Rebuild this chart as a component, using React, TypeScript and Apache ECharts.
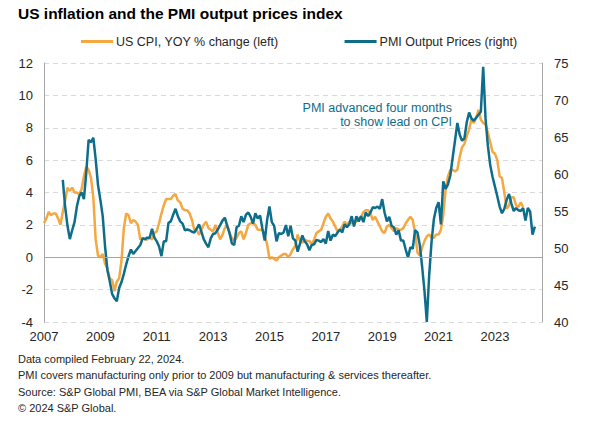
import React, { useEffect, useRef } from "react";
import * as echarts from "echarts";

// US CPI, YOY % change, monthly from Jan 2007 to Jan 2024
const cpiValues: number[] = [
  2.1, 2.4, 2.8, 2.6, 2.7, 2.7, 2.4, 2.0, 2.8, 3.5, 4.3, 4.1, // 2007
  4.3, 4.0, 4.0, 3.9, 4.2, 5.0, 5.6, 5.4, 4.9, 3.7, 1.1, 0.1, // 2008
  0.0, 0.2, -0.4, -0.7, -1.3, -1.4, -2.1, -1.5, -1.3, -0.2, 1.8, 2.7, // 2009
  2.6, 2.1, 2.3, 2.2, 2.0, 1.1, 1.2, 1.1, 1.1, 1.2, 1.1, 1.5, // 2010
  1.6, 2.1, 2.7, 3.2, 3.6, 3.6, 3.6, 3.8, 3.9, 3.5, 3.4, 3.0, // 2011
  2.9, 2.9, 2.7, 2.3, 1.7, 1.7, 1.4, 1.7, 2.0, 2.2, 1.8, 1.7, // 2012
  1.6, 2.0, 1.5, 1.1, 1.4, 1.8, 2.0, 1.5, 1.2, 1.0, 1.2, 1.5, // 2013
  1.6, 1.1, 1.5, 2.0, 2.1, 2.1, 2.0, 1.7, 1.7, 1.7, 1.3, 0.8, // 2014
  -0.1, 0.0, -0.1, -0.2, 0.0, 0.1, 0.2, 0.2, 0.0, 0.2, 0.5, 0.7, // 2015
  1.4, 1.0, 0.9, 1.1, 1.0, 1.0, 0.8, 1.1, 1.5, 1.6, 1.7, 2.1, // 2016
  2.5, 2.7, 2.4, 2.2, 1.9, 1.6, 1.7, 1.9, 2.2, 2.0, 2.2, 2.1, // 2017
  2.1, 2.2, 2.4, 2.5, 2.8, 2.9, 2.9, 2.7, 2.3, 2.5, 2.2, 1.9, // 2018
  1.6, 1.5, 1.9, 2.0, 1.8, 1.6, 1.8, 1.7, 1.7, 1.8, 2.1, 2.3, // 2019
  2.5, 2.3, 1.5, 0.3, 0.1, 0.6, 1.0, 1.3, 1.4, 1.2, 1.2, 1.4, // 2020
  1.4, 1.7, 2.6, 4.2, 5.0, 5.4, 5.4, 5.3, 5.4, 6.2, 6.8, 7.0, // 2021
  7.5, 7.9, 8.5, 8.3, 8.6, 9.1, 8.5, 8.3, 8.2, 7.7, 7.1, 6.5, // 2022
  6.4, 6.0, 5.0, 4.9, 4.0, 3.0, 3.2, 3.7, 3.7, 3.2, 3.1, 3.4, // 2023
  3.1, // 2024
];

// PMI Output Prices index, advanced four months: first plotted month is Sep 2007
const PMI_START_MONTH = 8; // months after Jan 2007
const pmiValues: number[] = [
  59.2, 55.6, 53.0, 51.2, 52.4, 53.5, 55.6, 57.0, 57.5, 56.6, 60.2, 64.6,
  64.3, 64.9, 62.0, 58.5, 56.5, 54.3, 50.2, 47.0, 45.5, 43.8, 43.2, 42.8,
  44.6, 45.4, 46.5, 47.8, 48.9, 49.8, 49.2, 49.6, 50.0, 50.4, 51.3, 51.2,
  51.4, 51.4, 52.6, 51.4, 50.9, 50.2, 48.9, 50.9, 50.9, 53.4, 53.6, 54.5,
  55.3, 54.3, 53.6, 53.3, 52.4, 52.5, 52.4, 52.2, 52.1, 52.6, 53.2, 52.2,
  51.2, 50.6, 50.1, 51.3, 51.9, 52.0, 52.5, 53.1, 53.7, 54.1, 53.0, 52.0,
  50.6, 50.4, 52.8, 53.0, 54.3, 53.5, 54.5, 54.8, 54.2, 53.3, 54.7, 54.0,
  54.4, 52.6, 51.0, 53.8, 55.6, 53.5, 53.0, 50.9, 52.0, 51.9, 52.1, 53.1,
  51.6, 53.0, 51.3, 51.0, 49.5, 50.6, 51.7, 50.9, 50.5, 49.7, 50.4, 50.5,
  51.1, 51.0, 50.8, 51.2, 50.6, 52.3, 51.0, 51.8, 51.6, 52.1, 52.5, 52.1,
  53.2, 52.8, 53.2, 54.3, 52.9, 54.3, 53.6, 54.3, 53.5, 54.8, 54.3, 54.8,
  55.5, 55.4, 55.6, 55.3, 56.6, 54.8, 53.6, 54.2, 53.0, 52.8, 51.8, 52.4,
  51.0, 51.0, 49.8, 48.7, 50.1, 49.9, 52.4, 52.1, 50.4, 47.5, 44.2, 40.0,
  46.3, 50.8, 53.9, 55.4, 56.2, 53.2, 59.0, 58.0, 58.6, 59.8, 62.2, 64.5,
  66.9, 65.3, 64.5, 64.8, 67.0, 68.3, 67.5, 67.2, 67.6, 68.0, 68.4, 74.5,
  67.5, 63.8, 61.2, 59.6, 58.3, 57.0, 55.6, 54.7, 55.3, 56.5, 57.3, 56.0,
  55.0, 55.4, 55.1, 55.0, 55.4, 53.7, 55.4, 54.9, 51.8, 52.9,
];

const FIRST_YEAR = 2007;
const X_MAX_YEARS = 17.67; // axis runs to about Sep 2024
const leftTicks = { min: -4, max: 12, interval: 2 };
const rightTicks = { min: 40, max: 75, interval: 5 };

const seriesNames = ["US CPI, YOY % change (left)", "PMI Output Prices (right)"];
const annotationLines = ["PMI advanced four months", "to show lead on CPI"];
const titleText = "US inflation and the PMI output prices index";
const footnotes = [
  "Data compiled February 22, 2024.",
  "PMI covers manufacturing only prior to 2009 but manufacturing & services thereafter.",
  "Source: S&P Global PMI, BEA via S&P Global Market Intelligence.",
  "\u00A9 2024 S&P Global.",
];

const ORANGE = "#F5A742";
const TEAL = "#0E6D8A";
const FONT = "'Liberation Sans', Arial, sans-serif";

export default function App() {
  const ref = useRef<HTMLDivElement>(null);

  useEffect(() => {
    if (!ref.current) return;
    const chart = echarts.init(ref.current, undefined, { renderer: "svg" });

    const cpiData = cpiValues.map((v, k) => [k / 12, v]);
    const pmiData = pmiValues.map((v, k) => [(k + PMI_START_MONTH) / 12, v]);

    const option: any = {
      animation: false,
      backgroundColor: "#ffffff",
      textStyle: { fontFamily: FONT },
      title: {
        text: titleText,
        left: 18,
        top: 5,
        padding: 0,
        textStyle: { fontSize: 15.5, fontWeight: "bold", color: "#000000", fontFamily: FONT },
      },
      legend: {
        left: 81,
        top: 35,
        padding: 0,
        itemWidth: 32,
        itemHeight: 3,
        itemGap: 66,
        icon: "rect",
        textStyle: { fontSize: 12.5, color: "#262626", fontFamily: FONT, padding: [0, 0, 0, -2] },
        data: seriesNames,
      },
      grid: { left: 44, right: 63, top: 63, bottom: 112, containLabel: false },
      xAxis: {
        type: "value",
        min: 0,
        max: X_MAX_YEARS,
        interval: 2,
        axisLine: { show: false },
        axisTick: { show: false },
        splitLine: { show: false },
        axisLabel: {
          fontSize: 13,
          color: "#262626",
          margin: 8,
          showMaxLabel: false,
          formatter: (v: number) => {
            const r = Math.round(v);
            if (Math.abs(v - r) > 1e-6 || r % 2 !== 0) return "";
            return String(FIRST_YEAR + r);
          },
        },
      },
      yAxis: [
        {
          type: "value",
          min: leftTicks.min,
          max: leftTicks.max,
          interval: leftTicks.interval,
          axisLine: { show: true, lineStyle: { color: "#a6a6a6", width: 1 } },
          axisTick: { show: false },
          axisLabel: { fontSize: 13, color: "#262626", margin: 11 },
          splitLine: { show: true, lineStyle: { color: "#d9d9d9", type: [5, 4], width: 1 } },
        },
        {
          type: "value",
          min: rightTicks.min,
          max: rightTicks.max,
          interval: rightTicks.interval,
          position: "right",
          axisLine: { show: true, lineStyle: { color: "#a6a6a6", width: 1 } },
          axisTick: { show: false },
          axisLabel: { fontSize: 13, color: "#262626", margin: 12 },
          splitLine: { show: false },
        },
      ],
      series: [
        {
          name: seriesNames[0],
          type: "line",
          yAxisIndex: 0,
          data: cpiData,
          showSymbol: false,
          symbol: "none",
          lineStyle: { color: ORANGE, width: 2.5 },
          itemStyle: { color: ORANGE },
          markLine: {
            silent: true,
            symbol: "none",
            label: { show: false },
            lineStyle: { color: "#a6a6a6", type: "solid", width: 1 },
            data: [{ yAxis: 0 }],
          },
          z: 2,
        },
        {
          name: seriesNames[1],
          type: "line",
          yAxisIndex: 1,
          data: pmiData,
          showSymbol: false,
          symbol: "none",
          lineStyle: { color: TEAL, width: 2.5 },
          itemStyle: { color: TEAL },
          z: 3,
        },
      ],
      graphic: [
        ...annotationLines.map((t, k) => ({
          type: "text",
          right: 605 - 452,
          top: 101 + k * 14,
          style: {
            text: t,
            fill: TEAL,
            font: `12.5px ${FONT}`,
            textAlign: "right",
          },
        })),
        ...footnotes.map((t, k) => ({
          type: "text",
          left: 18,
          top: 353 + k * 16.5,
          style: {
            text: t,
            fill: "#262626",
            font: `11px ${FONT}`,
          },
        })),
      ],
    };

    chart.setOption(option);
    return () => chart.dispose();
  }, []);

  return (
    <div
      ref={ref}
      style={{ position: "fixed", left: 0, top: 0, width: 605, height: 434, background: "#fff" }}
    />
  );
}
